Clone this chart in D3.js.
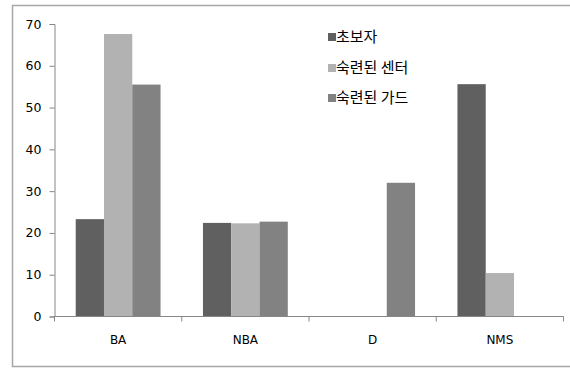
<!DOCTYPE html>
<html><head><meta charset="utf-8">
<script src="https://cdn.jsdelivr.net/npm/d3@7"></script>
<style>body{margin:0;background:#fff}svg{display:block;font-family:"Noto Sans CJK KR","DejaVu Sans",sans-serif}</style>
</head><body>
<script>
const categories = ["BA", "NBA", "D", "NMS"];
const seriesNames = ["초보자", "숙련된 센터", "숙련된 가드"];
const beginner = [23.3, 22.4, 0, 55.6];
const skilledCenter = [67.6, 22.3, 0, 10.4];
const skilledGuard = [55.5, 22.7, 32.0, 0];
const yTicks = [0, 10, 20, 30, 40, 50, 60, 70];
const colors = ["#606060", "#b2b2b2", "#828282"];
const seriesValues = [beginner, skilledCenter, skilledGuard];

(function () {
const W = 570, H = 368;
const svg = d3.select("body").append("svg").attr("width", W).attr("height", H);

// outer frame
svg.append("rect").attr("x", 12.5).attr("y", 5.5).attr("width", 570).attr("height", 361)
  .attr("fill", "none").attr("stroke", "#a6a6a6").attr("stroke-width", 1.5);

const pLeft = 54.5, pRight = 563.5, pTop = 24, pBottom = 316.5;
const x = d3.scaleBand().domain(categories).range([pLeft, pRight]).paddingInner(0).paddingOuter(0);
const y = d3.scaleLinear().domain([0, 70]).range([pBottom, pTop]);
const inner = d3.scaleBand().domain(seriesNames).range([0, x.bandwidth()]).paddingOuter(0.75).paddingInner(0);

// bars
seriesNames.forEach((s, si) => {
  svg.append("g").selectAll("rect").data(categories).join("rect")
    .attr("x", c => x(c) + inner(s))
    .attr("y", (c, i) => y(seriesValues[si][i]))
    .attr("width", inner.bandwidth())
    .attr("height", (c, i) => pBottom - y(seriesValues[si][i]))
    .attr("fill", colors[si]);
});

// y axis
const yAxis = d3.axisLeft(y).tickValues(yTicks).tickSize(5).tickPadding(8);
const gy = svg.append("g").attr("transform", `translate(${pLeft},0)`).call(yAxis);
gy.select(".domain").attr("stroke", "#868686");
gy.selectAll(".tick line").attr("stroke", "#868686");
gy.selectAll(".tick text").attr("font-size", 12.5).attr("fill", "#000").attr("font-family", "'DejaVu Sans', sans-serif");

// x axis
const gx = svg.append("g").attr("transform", `translate(0,${pBottom})`);
gx.append("line").attr("x1", pLeft).attr("x2", pRight).attr("stroke", "#868686");
const bounds = categories.map(c => x(c)).concat([pRight]);
gx.selectAll("line.t").data(bounds).join("line").attr("class", "t")
  .attr("x1", d => d).attr("x2", d => d).attr("y1", 0).attr("y2", 5).attr("stroke", "#868686");
gx.selectAll("text").data(categories).join("text")
  .attr("x", c => x(c) + x.bandwidth() / 2).attr("y", 27)
  .attr("text-anchor", "middle").attr("font-size", 12).attr("font-family", "'DejaVu Sans', sans-serif")
  .attr("fill", "#000").text(c => c);

// legend
const lg = svg.append("g").attr("transform", "translate(328,0)");
const legY = [37, 68, 98];
seriesNames.forEach((s, i) => {
  lg.append("rect").attr("x", 0).attr("y", legY[i] - 4).attr("width", 8).attr("height", 8).attr("fill", colors[i]);
  lg.append("text").attr("x", 8).attr("y", legY[i]).attr("dy", "0.36em")
    .attr("font-size", 15).attr("fill", "#000").text(s);
});
})();
</script>
</body></html>
